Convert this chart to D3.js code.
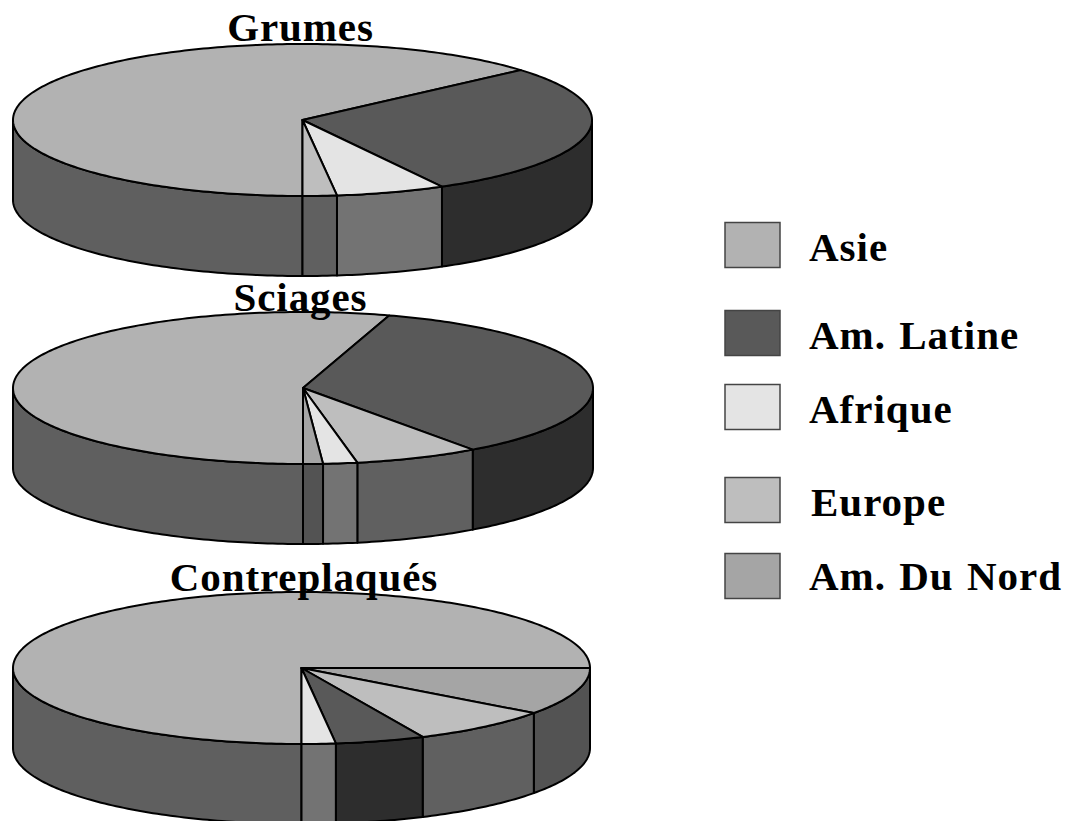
<!DOCTYPE html>
<html><head><meta charset="utf-8">
<script src="https://cdn.jsdelivr.net/npm/d3@7"></script>
<style>html,body{margin:0;padding:0;background:#fff;overflow:hidden}svg{display:block}
text{font-family:"Liberation Serif",serif;font-weight:bold;fill:#000}</style>
</head><body><svg id="c" width="1066" height="821"></svg>
<script>
const regions = ["Asie","Am. Latine","Afrique","Europe","Am. Du Nord"];
const pieTitles = ["Grumes","Sciages","Contreplaqués"];
const grumesRegions = ["Asie","Am. Latine","Afrique","Europe"];
const grumesShares = [63.6,28.4,6.1,1.9];
const sciagesRegions = ["Asie","Am. Latine","Europe","Afrique","Am. Du Nord"];
const sciagesShares = [54.8,35.25,6.95,1.9,1.1];
const contreRegions = ["Asie","Am. Du Nord","Europe","Am. Latine","Afrique"];
const contreShares = [75,10.1,8,5,1.9];

const topColor = d3.scaleOrdinal(regions,["#b2b2b2","#595959","#e4e4e4","#bebebe","#a5a5a5"]);
const sideColor = d3.scaleOrdinal(regions,["#5f5f5f","#2d2d2d","#737373","#606060","#535353"]);

const svg = d3.select("#c");
const layouts = [
  {cx:302.5,cy:120,rx:289.5,ry:76,depth:80,tx:300.5,ty:41,names:grumesRegions,vals:grumesShares},
  {cx:303,cy:388,rx:290,ry:76,depth:80,tx:300.5,ty:311,names:sciagesRegions,vals:sciagesShares},
  {cx:301.5,cy:668,rx:288.5,ry:76,depth:80,tx:304,ty:591,names:contreRegions,vals:contreShares}
];
const pie = d3.pie().sort(null).startAngle(Math.PI).endAngle(3*Math.PI);
const STEP = Math.PI/180;

layouts.forEach((L,i)=>{
  const g = svg.append("g");
  const x = d3.scaleLinear().domain([-1,1]).range([L.cx-L.rx,L.cx+L.rx]);
  const y = d3.scaleLinear().domain([-1,1]).range([L.cy-L.ry,L.cy+L.ry]);
  const px = a=>x(Math.sin(a)), py = a=>y(-Math.cos(a));
  const arcs = pie(L.vals);
  const samples = (a0,a1)=>{
    const n = Math.max(2,Math.ceil((a1-a0)/STEP));
    return d3.range(n+1).map(k=>a0+(a1-a0)*k/n);
  };
  const line = d3.line();
  // side walls: only the front half of the disc (90deg..270deg clockwise from north)
  const windows = [[Math.PI/2,1.5*Math.PI],[2.5*Math.PI,3.5*Math.PI]];
  arcs.forEach((d,j)=>{
    windows.forEach(w=>{
      const a0 = Math.max(d.startAngle,w[0]), a1 = Math.min(d.endAngle,w[1]);
      if(a1<=a0) return;
      const s = samples(a0,a1);
      const pts = s.map(a=>[px(a),py(a)]).concat(s.slice().reverse().map(a=>[px(a),py(a)+L.depth]));
      g.append("path").attr("d",line(pts)+"Z").attr("fill",sideColor(L.names[j]))
        .attr("stroke","#000").attr("stroke-width",2).attr("stroke-linejoin","round");
    });
  });
  // top faces
  arcs.forEach((d,j)=>{
    const pts = [[x(0),y(0)]].concat(samples(d.startAngle,d.endAngle).map(a=>[px(a),py(a)]));
    g.append("path").attr("d",line(pts)+"Z").attr("fill",topColor(L.names[j]))
      .attr("stroke","#000").attr("stroke-width",2).attr("stroke-linejoin","round");
  });
  g.append("text").attr("x",L.tx).attr("y",L.ty).attr("text-anchor","middle")
    .attr("font-size",41).attr("letter-spacing",0.9).text(pieTitles[i]);
});

// legend
const legendTop = [222,310,384,477,553];
const legendBase = [261,349,423,516,590];
const legendX = [809,809,809,811,809];
const leg = svg.append("g");
regions.forEach((r,i)=>{
  leg.append("rect").attr("x",725).attr("y",legendTop[i]+0.5).attr("width",55).attr("height",45)
    .attr("fill",topColor(r)).attr("stroke","#444").attr("stroke-width",1.5);
  leg.append("text").attr("x",legendX[i]).attr("y",legendBase[i]).attr("font-size",41)
    .attr("letter-spacing",1).attr("word-spacing",2).text(r);
});
</script></body></html>
